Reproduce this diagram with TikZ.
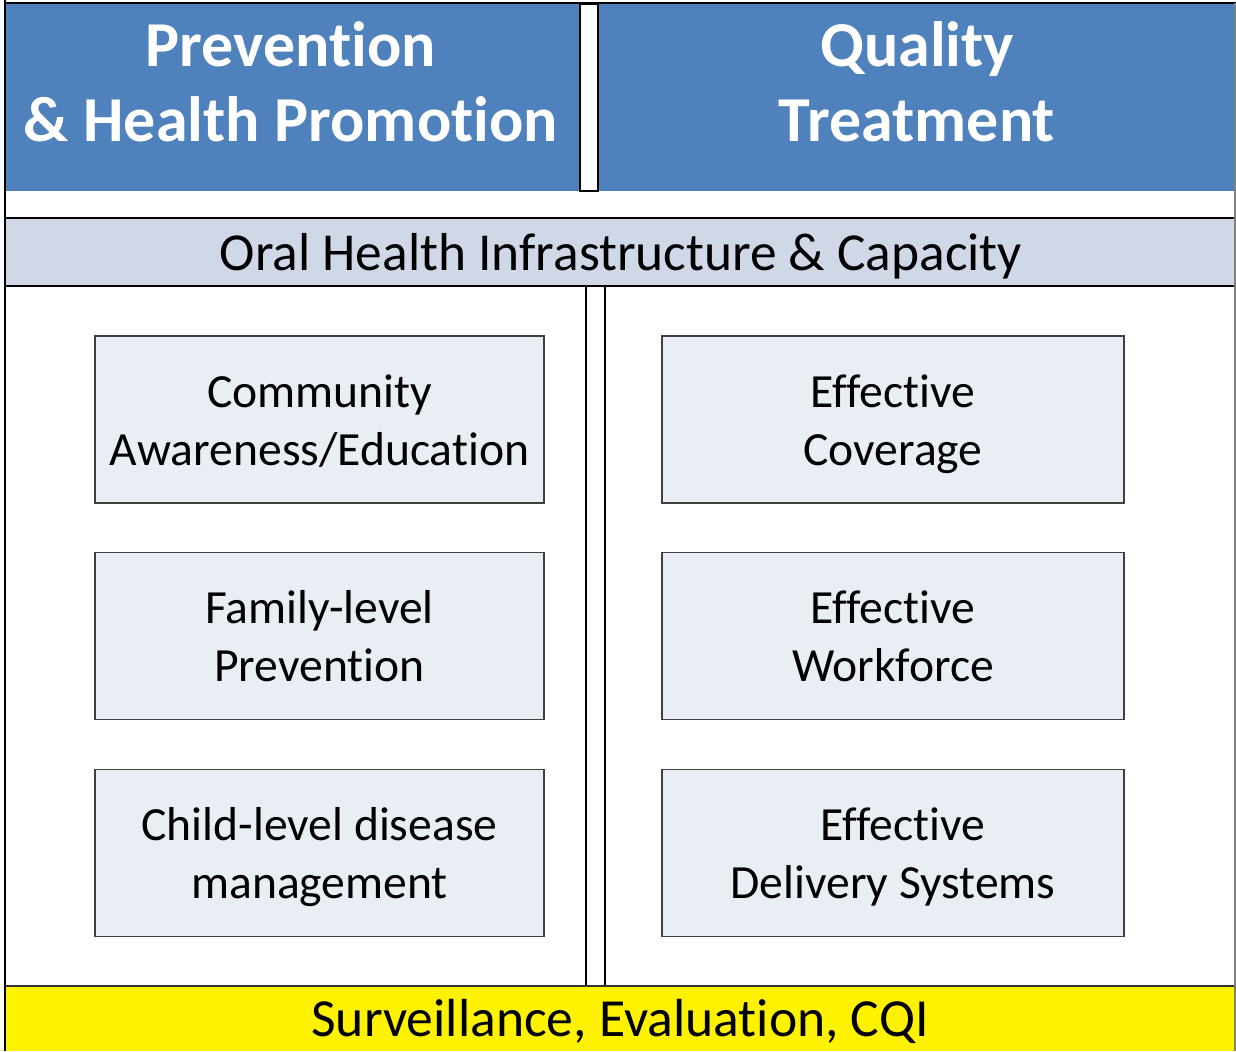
\documentclass[tikz,border=0pt]{standalone}
\usepackage{fontspec}
\setmainfont{Carlito}[Ligatures=CommonOff]
\definecolor{hdrblue}{HTML}{4F81BD}
\definecolor{bandgray}{HTML}{D0D8E8}
\definecolor{boxfill}{HTML}{E9EDF4}
\definecolor{boxline}{HTML}{404040}
\newcommand{\tstrut}{\rule{0pt}{25.3pt}}
\begin{document}
\begin{tikzpicture}[x=0.5pt,y=-0.5pt,
  box/.style={draw=boxline,line width=0.7pt,fill=boxfill,minimum width=224.5pt,minimum height=83.5pt,align=center,font=\fontsize{23.8}{29}\selectfont,inner sep=0pt},
  hdr/.style={text=white,align=center,font=\bfseries\fontsize{32}{37.5}\selectfont,inner sep=0pt}]
\useasboundingbox (0,0) rectangle (1236,1051);
\fill[white] (0,0) rectangle (1236,1051);
% header
\fill[hdrblue] (5,3) rectangle (1236,191);
\draw[line width=1pt] (5,3) -- (1236,3);
\draw[fill=white,line width=1.2pt] (580,4) rectangle (598,191);
\node[hdr] (prev) at (291,82) {Prevention\\\& Health Promotion};
\node[hdr] (qual) at (917,82) {Quality\\Treatment};
% infrastructure band
\fill[bandgray] (5,218) rectangle (1236,286);
\draw[line width=1pt] (5,218) -- (1236,218);
\draw[line width=1pt] (5,286) -- (1236,286);
\node[font=\fontsize{26.7}{30}\selectfont,inner sep=0pt] (infra) at (621,256) {Oral Health Infrastructure \& Capacity};
% vertical dividers
\draw[line width=1pt] (586,286) -- (586,986);
\draw[line width=1pt] (605,286) -- (605,986);
% yellow band
\fill[yellow] (5,986) rectangle (1236,1051);
\draw[line width=0.8pt,draw=black!80] (5,986) -- (1236,986);
\node[font=\fontsize{26.8}{30}\selectfont,inner sep=0pt] (surv) at (620,1021) {Surveillance, Evaluation, CQI};
% outer lines
\draw[line width=1.2pt] (5,0) -- (5,1051);
\draw[line width=0.8pt,draw=gray] (1235,3) -- (1235,1051);
% boxes
\node[box] (b1) at (319.5,419.5) {\tstrut Community\\\strut Awareness/Education};
\node[box] (b2) at (319.5,636) {\tstrut Family-level\\\strut Prevention};
\node[box] (b3) at (319.5,853) {\tstrut Child-level disease\\\strut management};
\node[box,minimum width=231pt] (b4) at (893,419.5) {\tstrut Effective\\\strut Coverage};
\node[box,minimum width=231pt] (b5) at (893,636) {\tstrut Effective\\\strut Workforce};
\node[box,minimum width=231pt] (b6) at (893,853) {\tstrut\hspace*{10pt}Effective\\\strut Delivery Systems};
\end{tikzpicture}
\end{document}
